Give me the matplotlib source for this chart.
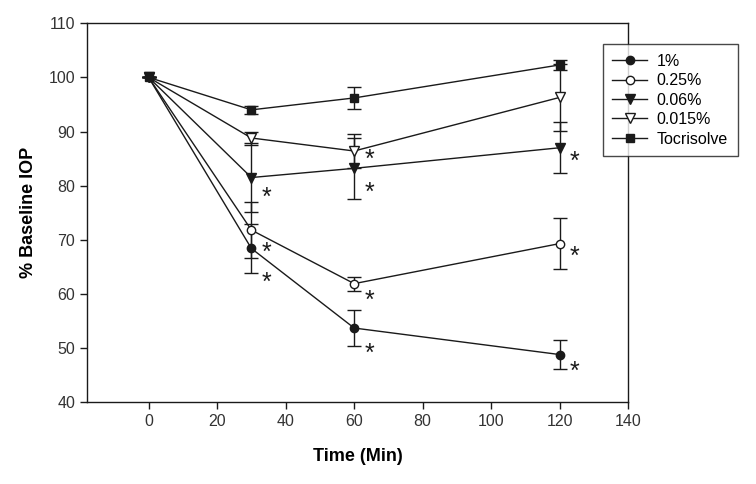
import numpy as np
import matplotlib.pyplot as plt

plt.rcParams['font.family'] = ['Liberation Sans', 'DejaVu Sans']

t = [0, 30, 60, 120]
labels = ['1%', '0.25%', '0.06%', '0.015%', 'Tocrisolve']
iop_1 = [100, 68.4, 53.7, 48.8]
iop_025 = [100, 71.8, 61.9, 69.3]
iop_006 = [100, 81.5, 83.2, 87.0]
iop_0015 = [100, 88.8, 86.4, 96.3]
iop_toc = [100, 94.0, 96.2, 102.3]
err_1 = [0, 4.5, 3.3, 2.7]
err_025 = [0, 5.1, 1.3, 4.7]
err_006 = [0, 6.4, 5.6, 4.7]
err_0015 = [0, 1.2, 3.2, 6.2]
err_toc = [0, 0.8, 2.0, 1.0]

# significance stars (x, y)
star_x = [34.3, 34.3, 34.3, 64.5, 64.5, 64.5, 64.5, 124.3, 124.3, 124.3]
star_y = [78.7, 68.4, 62.9, 85.6, 79.6, 59.6, 49.9, 85.3, 67.7, 46.5]

series = [iop_1, iop_025, iop_006, iop_0015, iop_toc]
errs = [err_1, err_025, err_006, err_0015, err_toc]
markers = ['o', 'o', 'v', 'v', 's']
faces = ['#1a1a1a', 'white', '#1a1a1a', 'white', '#1a1a1a']
sizes = [6, 6, 7, 7, 6]

fig = plt.figure(figsize=(7.56, 4.84), dpi=100)
ax = fig.add_axes([0.115, 0.169, 0.716, 0.783])

handles = []
for y, e, m, fc, ms, lab in zip(series, errs, markers, faces, sizes, labels):
    h = ax.errorbar(t, y, yerr=e, color='#1a1a1a', marker=m, mfc=fc, mec='#1a1a1a',
                    ms=ms, lw=1.0, elinewidth=1.0, capsize=5, capthick=1.0, label=lab)
    handles.append(h)

for x, y in zip(star_x, star_y):
    ax.annotate('*', (x, y), xytext=(0, -3.5), textcoords='offset points',
                fontsize=18, ha='center', va='center', color='#1a1a1a')

ax.set_xlim(-18, 140)
ax.set_ylim(40, 110)
ax.set_xticks(range(0, 141, 20))
ax.set_yticks(range(40, 111, 10))
ax.tick_params(direction='out', length=5, width=1, labelsize=11.5, colors='#1a1a1a',
               labelcolor='#333333')
for s in ax.spines.values():
    s.set_linewidth(1.0)
    s.set_color('#1a1a1a')

ax.set_xlabel('Time (Min)', fontsize=13, fontweight='bold', labelpad=14)
ax.set_ylabel('% Baseline IOP', fontsize=13, fontweight='bold', labelpad=8)

leg = fig.legend(handles=[h[0] for h in handles], labels=labels,
                 loc='upper left', bbox_to_anchor=(0.797, 0.909), borderaxespad=0,
                 fontsize=11.5, frameon=True, fancybox=False, edgecolor='#1a1a1a',
                 handlelength=2.2, handletextpad=0.6, labelspacing=0.28,
                 borderpad=0.6)
leg.get_frame().set_linewidth(1.0)

fig.savefig('out.png', dpi=100)
